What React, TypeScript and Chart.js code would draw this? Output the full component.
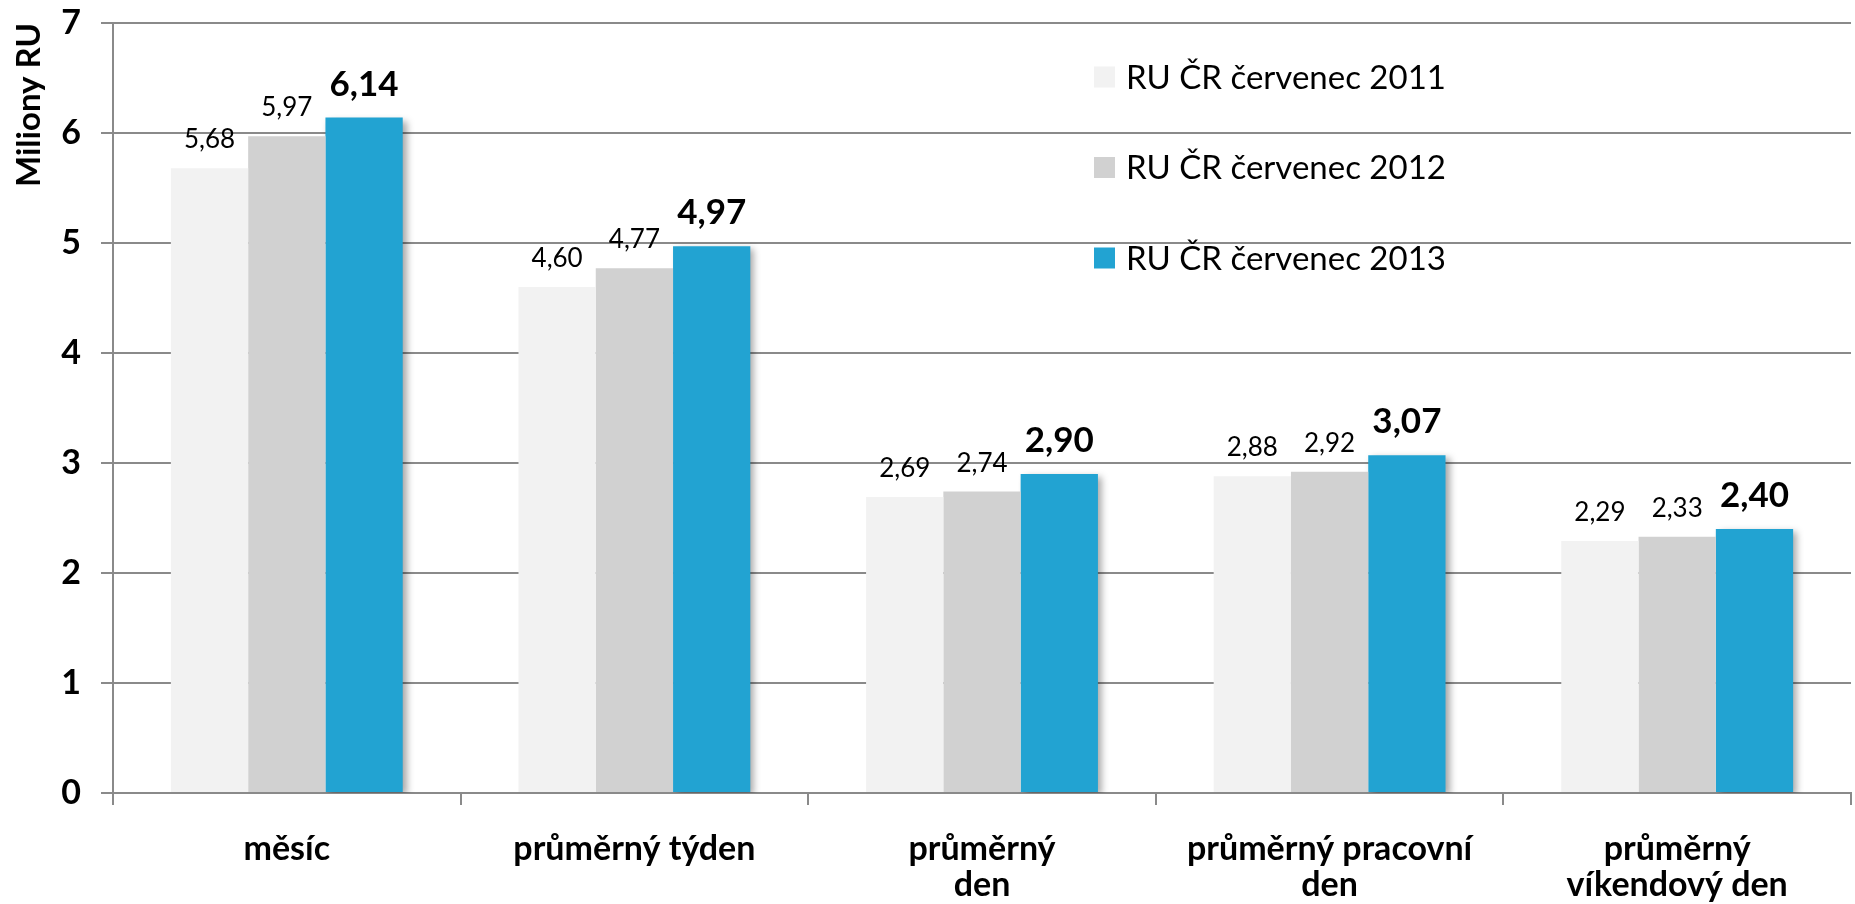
import React, { useEffect, useRef } from "react";
import { Chart, registerables } from "chart.js";

Chart.register(...registerables);

const categories: (string | string[])[] = [
  "měsíc",
  "průměrný týden",
  ["průměrný", "den"],
  ["průměrný pracovní", "den"],
  ["průměrný", "víkendový den"],
];
const seriesLabels = ["RU ČR červenec 2011", "RU ČR červenec 2012", "RU ČR červenec 2013"];
const values2011 = [5.68, 4.6, 2.69, 2.88, 2.29];
const values2012 = [5.97, 4.77, 2.74, 2.92, 2.33];
const values2013 = [6.14, 4.97, 2.9, 3.07, 2.4];
const seriesColors = ["#F2F2F2", "#D1D1D1", "#22A3D2"];
const yTitle = "Miliony RU";
const yMin = 0;
const yMax = 7;
const yStep = 1;

const FONT = "Lato";
const GRID = "#8a8a8a";

const fmt = (v: number) => v.toFixed(2).replace(".", ",");

const shadowPlugin = {
  id: "shadowPlugin",
  beforeDatasetDraw(chart: any, args: any) {
    if (args.index !== 2) return;
    const ctx = chart.ctx;
    ctx.save();
    ctx.shadowColor = "rgba(0,0,0,0.35)";
    ctx.shadowBlur = 7;
    ctx.shadowOffsetX = 4;
    ctx.shadowOffsetY = 3;
  },
  afterDatasetDraw(chart: any, args: any) {
    if (args.index !== 2) return;
    chart.ctx.restore();
  },
};

const labelPlugin = {
  id: "labelPlugin",
  afterDatasetsDraw(chart: any) {
    const ctx = chart.ctx;
    ctx.save();
    ctx.textAlign = "center";
    ctx.textBaseline = "alphabetic";
    ctx.fillStyle = "#000";
    chart.data.datasets.forEach((ds: any, di: number) => {
      const meta = chart.getDatasetMeta(di);
      const bold = di === 2;
      ctx.font = bold ? `bold 35px ${FONT}` : `26px ${FONT}`;
      meta.data.forEach((el: any, i: number) => {
        ctx.fillText(fmt(ds.data[i]), el.x, el.y - (bold ? 22 : 20));
      });
    });
    ctx.restore();
  },
};

const legendPlugin = {
  id: "legendPlugin",
  afterDraw(chart: any) {
    const ctx = chart.ctx;
    ctx.save();
    ctx.font = `33px ${FONT}`;
    ctx.textBaseline = "middle";
    ctx.textAlign = "left";
    const boxX = 1094;
    const startY = 77;
    const gap = 90.5;
    const box = 21;
    chart.data.datasets.forEach((ds: any, i: number) => {
      const cy = startY + i * gap;
      ctx.fillStyle = ds.backgroundColor;
      ctx.fillRect(boxX, cy - box / 2, box, box);
      ctx.fillStyle = "#000";
      ctx.fillText(ds.label, boxX + 32, cy + 1);
    });
    ctx.restore();
  },
};

export default function App() {
  const ref = useRef<HTMLCanvasElement>(null);
  useEffect(() => {
    document.body.style.margin = "0";
    const chart = new Chart(ref.current as HTMLCanvasElement, {
      type: "bar",
      data: {
        labels: categories as any,
        datasets: [values2011, values2012, values2013].map((d, i) => ({
          label: seriesLabels[i],
          data: d,
          backgroundColor: seriesColors[i],
          borderWidth: 0,
          categoryPercentage: 0.667,
          barPercentage: 1.0,
        })),
      },
      options: {
        responsive: false,
        animation: false,
        layout: { padding: { top: 23, right: 4, left: 0, bottom: 0 } },
        plugins: {
          legend: { display: false },
          tooltip: { enabled: false },
        },
        scales: {
          x: {
            grid: {
              display: true,
              drawOnChartArea: false,
              drawTicks: true,
              tickLength: 12,
              color: GRID,
              lineWidth: 2,
              offset: true,
            },
            border: { color: GRID, width: 2 },
            ticks: {
              color: "#000",
              font: { family: FONT, size: 34, weight: "bold", lineHeight: 1.06 },
              padding: 26,
              maxRotation: 0,
              autoSkip: false,
            },
            afterFit(scale: any) {
              scale.height = 111;
              scale.paddingLeft = 0;
              scale.paddingRight = 0;
            },
          },
          y: {
            min: yMin,
            max: yMax,
            ticks: {
              stepSize: yStep,
              color: "#000",
              font: { family: FONT, size: 34, weight: "bold" },
              padding: 20,
            },
            grid: {
              color: GRID,
              lineWidth: 2,
              drawTicks: true,
              tickLength: 12,
            },
            border: { color: GRID, width: 2 },
            title: {
              display: true,
              text: yTitle,
              align: "end",
              color: "#000",
              font: { family: FONT, size: 33, weight: "bold" },
              padding: { top: 10, bottom: 0 },
            },
            afterFit(scale: any) {
              scale.width = 113;
              scale.paddingTop = 0;
              scale.paddingBottom = 0;
            },
          },
        },
      },
      plugins: [shadowPlugin, labelPlugin, legendPlugin],
    });
    return () => chart.destroy();
  }, []);
  return (
    <div style={{ width: 1855, height: 904 }}>
      <canvas ref={ref} width={1855} height={904} style={{ display: "block" }} />
    </div>
  );
}
